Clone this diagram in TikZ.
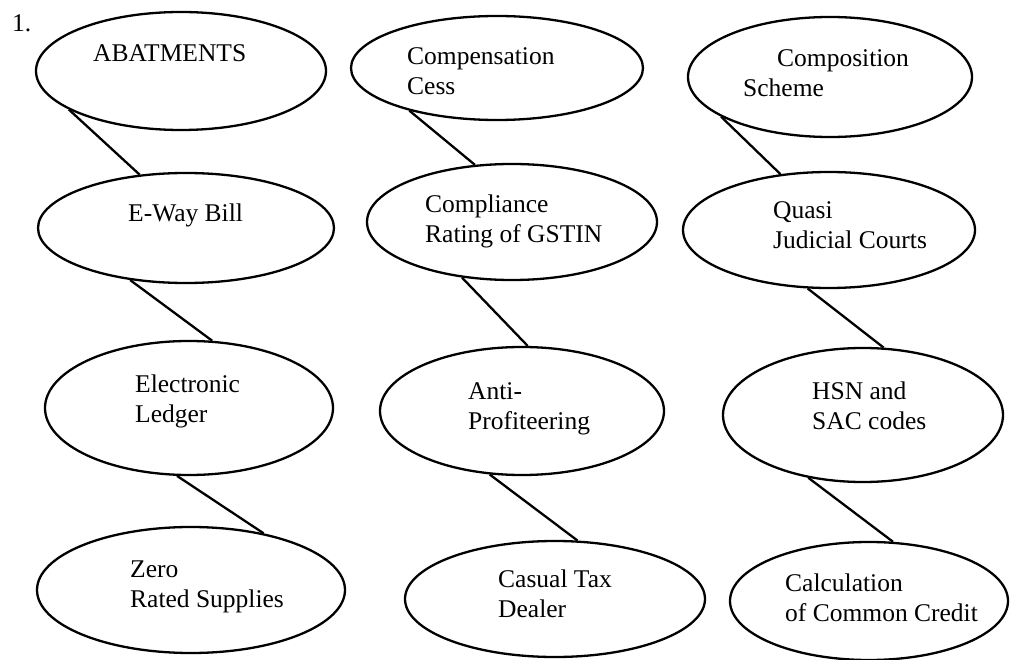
\documentclass[tikz,border=0pt]{standalone}
\usepackage{fontspec}
\setmainfont{Liberation Serif}
\usetikzlibrary{shapes.geometric}
\begin{document}
\begin{tikzpicture}[x=1pt,y=-1pt,
  oval/.style={draw=black,line width=2.3pt,ellipse,inner sep=0pt},
  lbl/.style={anchor=base west,inner sep=0pt,align=left,font=\fontsize{25.5}{30}\selectfont},
  link/.style={draw=black,line width=2.3pt}]
\useasboundingbox (0,0) rectangle (1010,660);
\node[lbl] (num) at (12,32) {1.};
% column 1
\node[oval,minimum width=290pt,minimum height=118pt] (a1) at (181,71) {};
\node[oval,minimum width=296pt,minimum height=110pt] (a2) at (186,228) {};
\node[oval,minimum width=288pt,minimum height=134pt] (a3) at (189,408) {};
\node[oval,minimum width=308pt,minimum height=126pt] (a4) at (191,590) {};
% column 2
\node[oval,minimum width=292pt,minimum height=104pt] (b1) at (497,68) {};
\node[oval,minimum width=290pt,minimum height=116pt] (b2) at (512,222) {};
\node[oval,minimum width=284pt,minimum height=128pt] (b3) at (522,411) {};
\node[oval,minimum width=300pt,minimum height=116pt] (b4) at (555,599) {};
% column 3
\node[oval,minimum width=284pt,minimum height=120pt] (c1) at (830,77) {};
\node[oval,minimum width=292pt,minimum height=116pt] (c2) at (829,230) {};
\node[oval,minimum width=280pt,minimum height=134pt] (c3) at (863,415) {};
\node[oval,minimum width=278pt,minimum height=118pt] (c4) at (869,601) {};
% texts (base = baseline of last line)
\node[lbl] (ta1) at (93,62) {ABATMENTS};
\node[lbl] (ta2) at (128,222) {E-Way Bill};
\node[lbl] (ta3) at (135,422) {Electronic\\Ledger};
\node[lbl] (ta4) at (130,607) {Zero\\Rated Supplies};
\node[lbl] (tb1) at (407,95) {Compensation\\Cess};
\node[lbl] (tb2) at (425,243) {Compliance\\Rating of GSTIN};
\node[lbl] (tb3) at (468,429) {Anti-\\Profiteering};
\node[lbl] (tb4) at (498,617) {Casual Tax\\Dealer};
\node[lbl] (tc1) at (743,97) {\hspace*{34pt}Composition\\Scheme};
\node[lbl] (tc2) at (773,249) {Quasi\\Judicial Courts};
\node[lbl] (tc3) at (812,429) {HSN and\\SAC codes};
\node[lbl] (tc4) at (785,621) {Calculation\\of Common Credit};
% connectors
\draw[link] (a1.199) -- (a2.131);
\draw[link] (a2.223) -- (a3.71);
\draw[link] (a3.260) -- (a4.38);
\draw[link] (b1.206) -- (b2.123);
\draw[link] (b2.228) -- (b3.85);
\draw[link] (b3.243) -- (b4.69);
\draw[link] (c1.200) -- (c2.131);
\draw[link] (c2.250) -- (c3.73);
\draw[link] (c3.229) -- (c4.68);
\end{tikzpicture}
\end{document}
